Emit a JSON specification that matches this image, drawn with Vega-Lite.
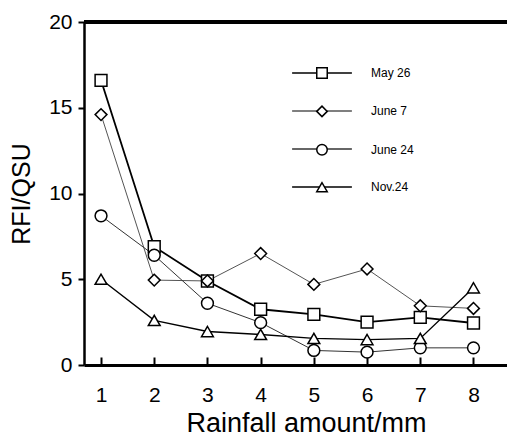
{
  "$schema": "https://vega.github.io/schema/vega-lite/v6.json",
  "autosize": {"type": "none"},
  "padding": {"left": 84, "top": 22, "right": 0, "bottom": 76},
  "width": 423,
  "height": 343,
  "background": "white",
  "config": {
    "view": {"stroke": null},
    "font": "Liberation Sans",
    "axis": {"grid": false, "domainColor": "black", "tickColor": "black", "labelColor": "black", "titleColor": "black", "labelFont": "Liberation Sans", "titleFont": "Liberation Sans", "titleFontWeight": "normal"},
    "legend": {"labelFont": "Liberation Sans"}
  },
  "data": {
    "values": [
      {"mm": 1, "series": "May 26", "v": 16.6},
      {"mm": 2, "series": "May 26", "v": 6.9},
      {"mm": 3, "series": "May 26", "v": 4.9},
      {"mm": 4, "series": "May 26", "v": 3.25},
      {"mm": 5, "series": "May 26", "v": 2.95},
      {"mm": 6, "series": "May 26", "v": 2.5},
      {"mm": 7, "series": "May 26", "v": 2.78},
      {"mm": 8, "series": "May 26", "v": 2.45},
      {"mm": 1, "series": "June 7", "v": 14.6},
      {"mm": 2, "series": "June 7", "v": 4.95},
      {"mm": 3, "series": "June 7", "v": 4.9},
      {"mm": 4, "series": "June 7", "v": 6.5},
      {"mm": 5, "series": "June 7", "v": 4.7},
      {"mm": 6, "series": "June 7", "v": 5.6},
      {"mm": 7, "series": "June 7", "v": 3.45},
      {"mm": 8, "series": "June 7", "v": 3.3},
      {"mm": 1, "series": "June 24", "v": 8.7},
      {"mm": 2, "series": "June 24", "v": 6.4},
      {"mm": 3, "series": "June 24", "v": 3.6},
      {"mm": 4, "series": "June 24", "v": 2.47},
      {"mm": 5, "series": "June 24", "v": 0.85},
      {"mm": 6, "series": "June 24", "v": 0.75},
      {"mm": 7, "series": "June 24", "v": 1.0},
      {"mm": 8, "series": "June 24", "v": 1.0},
      {"mm": 1, "series": "Nov.24", "v": 5.0},
      {"mm": 2, "series": "Nov.24", "v": 2.6},
      {"mm": 3, "series": "Nov.24", "v": 1.95},
      {"mm": 4, "series": "Nov.24", "v": 1.78},
      {"mm": 5, "series": "Nov.24", "v": 1.55},
      {"mm": 6, "series": "Nov.24", "v": 1.48},
      {"mm": 7, "series": "Nov.24", "v": 1.55},
      {"mm": 8, "series": "Nov.24", "v": 4.5}
    ]
  },
  "encoding": {
    "x": {
      "field": "mm", "type": "quantitative",
      "scale": {"domain": [0.68, 8.63], "nice": false, "zero": false},
      "axis": {"values": [1, 2, 3, 4, 5, 6, 7, 8], "format": "d", "title": "Rainfall amount/mm", "labelFontSize": 21, "titleFontSize": 27, "tickSize": -8, "tickWidth": 2, "domainWidth": 3, "labelPadding": 27, "titlePadding": 5, "titleX": 222}
    },
    "y": {
      "field": "v", "type": "quantitative",
      "scale": {"domain": [0, 20], "nice": false},
      "axis": {"values": [0, 5, 10, 15, 20], "title": "RFI/QSU", "labelFontSize": 21, "titleFontSize": 25, "tickSize": 6, "tickWidth": 2, "domainWidth": 2.5, "labelPadding": 6, "titlePadding": 14}
    }
  },
  "layer": [
    {
      "mark": {"type": "rule"},
      "encoding": {"x": null, "y": {"datum": 20}, "color": null, "strokeWidth": {"value": 2.5}}
    },
    {
      "mark": {"type": "line"},
      "encoding": {
        "color": {
          "field": "series", "type": "nominal",
          "sort": ["May 26", "June 7", "June 24", "Nov.24"],
          "scale": {"range": ["#000000", "#555555", "#333333", "#000000"]},
          "legend": {"orient": "none", "legendX": 232, "legendY": 45, "title": null, "symbolType": "M-5.7,0H5.7", "symbolSize": 110, "labelFontSize": 12, "labelExpr": "''", "labelOffset": 43, "rowPadding": 26, "symbolStrokeWidth": 1.5}
        },
        "strokeWidth": {
          "field": "series", "type": "nominal",
          "sort": ["May 26", "June 7", "June 24", "Nov.24"],
          "scale": {"type": "ordinal", "range": [1.8, 1, 1, 1.4]},
          "legend": null
        }
      }
    },
    {
      "mark": {"type": "point", "filled": true, "fill": "white", "stroke": "black", "strokeWidth": 1.5, "size": 140, "opacity": 1},
      "encoding": {
        "shape": {
          "field": "series", "type": "nominal",
          "scale": {"domain": ["May 26", "June 7", "June 24", "Nov.24"], "range": ["square", "diamond", "circle", "triangle-up"]},
          "legend": {"orient": "none", "legendX": 232, "legendY": 45, "title": null, "symbolSize": 110, "labelFontSize": 12, "labelColor": "black", "labelOffset": 43, "rowPadding": 20.4, "zindex": 2,
            "encode": {"symbols": {"update": {"fill": {"value": "white"}, "stroke": {"value": "black"}, "strokeWidth": {"value": 1.5}, "opacity": {"value": 1}}}}}
        }
      }
    }
  ]
}
